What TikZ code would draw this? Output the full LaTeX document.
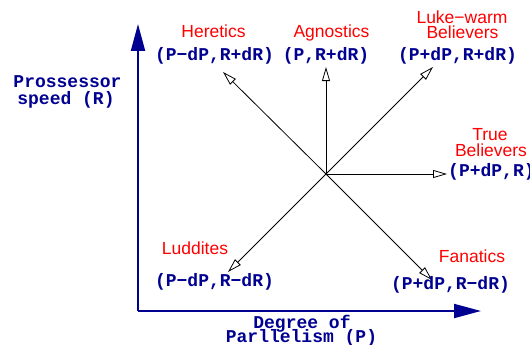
\documentclass[tikz,border=0pt]{standalone}
\usepackage{fontspec}
\setmainfont{Liberation Sans}
\newfontfamily\cour{Liberation Mono}
\usetikzlibrary{arrows.meta}
\definecolor{axisblue}{RGB}{0,0,145}
\definecolor{lblred}{RGB}{255,0,0}
\tikzset{
  redlbl/.style={text=lblred, inner sep=0pt, anchor=base, font=\fontsize{17.5}{17}\selectfont},
  coordlbl/.style={text=axisblue, inner sep=0pt, anchor=base, font=\cour\bfseries\fontsize{18}{16}\selectfont},
  axis/.style={draw=axisblue, line width=2pt, -{Triangle[length=27pt,width=14pt]}},
  move/.style={draw=black, line width=0.8pt, -{Triangle[open,length=14pt,width=8pt]}}
}
\begin{document}
\begin{tikzpicture}[x=1pt,y=-1pt]
\useasboundingbox (0,0) rectangle (530,345);
% axes
\coordinate (o) at (138,311);
\coordinate (ytop) at (138,24);
\coordinate (xend) at (481,311);
\draw[axis] (o) -- (ytop);
\draw[axis] (o) -- (xend);
% axis labels
\node[coordlbl] (yl1) at (67.5,88) {Prossessor};
\node[coordlbl] (yl2) at (66,104) {speed (R)};
\node[coordlbl] (xl1) at (302,328) {Degree of};
\node[coordlbl] (xl2) at (301.5,342) {Parllelism (P)};
% centre and tips
\coordinate (c) at (326,174);
\coordinate (th) at (223,72);
\coordinate (ta) at (326,67);
\coordinate (tl) at (433,67);
\coordinate (tt) at (447,174);
\coordinate (td) at (228,272);
\coordinate (tf) at (432,280);
\draw[move] (c) -- (th);
\draw[move] (c) -- (ta);
\draw[move] (c) -- (tl);
\draw[move] (c) -- (tt);
\draw[move] (c) -- (td);
\draw[move] (c) -- (tf);
% labels
\node[redlbl] (her) at (213.5,38) {Heretics};
\node[coordlbl] (herc) at (214.5,60) {(P−dP,R+dR)};
\node[redlbl] (agn) at (331.5,38) {Agnostics};
\node[coordlbl] (agnc) at (326,60) {(P,R+dR)};
\node[redlbl] (luk1) at (462,24) {Luke−warm};
\node[redlbl] (luk2) at (462.5,39) {Believers};
\node[coordlbl] (lukc) at (457.5,60) {(P+dP,R+dR)};
\node[redlbl] (tru1) at (490,140) {True};
\node[redlbl] (tru2) at (491,156) {Believers};
\node[coordlbl, anchor=base west] (truc) at (448,176) {(P+dP,R)};
\node[redlbl] (lud) at (195,254) {Luddites};
\node[coordlbl] (ludc) at (214.5,286) {(P−dP,R−dR)};
\node[redlbl] (fan) at (472,262) {Fanatics};
\node[coordlbl] (fanc) at (450.5,289) {(P+dP,R−dR)};
\end{tikzpicture}
\end{document}
